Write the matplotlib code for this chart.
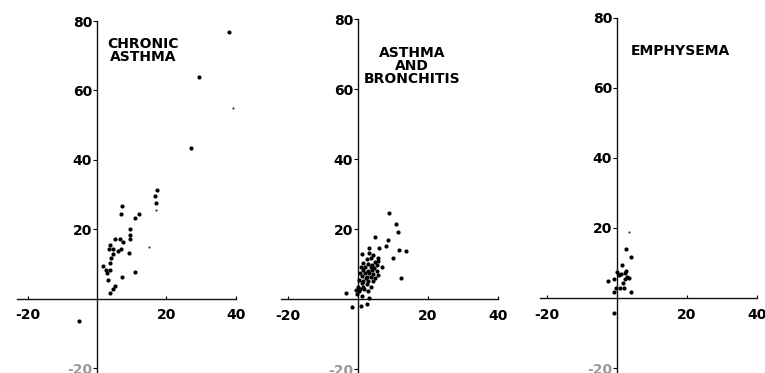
import matplotlib
matplotlib.use("Agg")
import matplotlib.pyplot as plt

plt.rcParams['axes.unicode_minus'] = False
plt.rcParams['font.family'] = ['DejaVu Sans']

# ---- data ----
titles = ["CHRONIC\nASTHMA", "ASTHMA\nAND\nBRONCHITIS", "EMPHYSEMA"]

ca_x = [38.1, 29.5, 27.2, 17.2, 16.7, 17.1, 7.2, 6.9, 12.0, 11.0, 9.4, 9.5, 9.5, 5.2, 6.7,
        3.7, 7.6, 3.5, 4.7, 6.0, 6.9, 4.6, 9.1, 3.9, 3.7, 1.7, 2.5, 3.7, 2.8, 10.9, 3.2,
        7.2, 5.2, 4.6, 3.8, -5.1]
ca_y = [76.9, 64.0, 43.5, 31.4, 29.6, 27.6, 26.8, 24.5, 24.3, 23.4, 20.0, 18.3, 17.1, 17.1, 17.2,
        15.4, 16.2, 14.3, 14.2, 13.8, 14.4, 12.9, 13.2, 11.6, 10.2, 9.4, 8.4, 8.4, 7.3, 7.8, 5.4,
        6.2, 3.6, 2.7, 1.6, -6.4]
ca_small_x = [17.0, 15.1, 39.3]
ca_small_y = [25.7, 14.8, 54.9]

ab_x = [8.9, 10.8, 11.4, 4.9, 8.7, 8.1, 3.1, 5.9, 11.8, 13.8, 10.0, 12.3, -3.5, -1.6, 0.9, 2.7,
        1.05, 3.2, 4.2, 2.5, 3.7, 5.8, 1.3, 4.9, 5.6, 2.9, 3.9, 5.3, 6.8, 0.8, 2.1, 3.6, 4.6,
        1.5, 2.8, 3.9, 5.5, 0.6, 2.0, 3.2, 4.4, 5.8, 1.05, 2.5, 2.3, 3.6, 4.9, 0.4, 1.5, 2.9,
        4.2, 1.05, 2.5, 3.6, 0.1, 1.5, 0.6, -0.6, 0.4, 1.7, 2.9, -0.2, 1.05, 3.2]
ab_y = [24.7, 21.4, 19.1, 17.7, 16.9, 15.2, 14.7, 14.6, 14.2, 13.7, 11.8, 6.0, 1.8, -2.2, -2.0, -1.3,
        12.9, 13.1, 12.7, 11.5, 11.7, 11.7, 10.3, 10.7, 10.9, 10.1, 9.8, 9.8, 9.1, 9.1, 9.1, 9.3, 8.9,
        8.4, 8.1, 8.4, 8.1, 7.6, 7.4, 7.6, 7.2, 6.9, 6.7, 6.5, 6.0, 6.3, 6.0, 5.5, 5.3, 5.3,
        5.3, 4.6, 4.4, 3.6, 3.6, 3.6, 2.9, 2.7, 2.5, 2.9, 2.5, 1.5, 0.9, 0.3]

em_x = [2.6, 4.0, 1.4, 2.7, 0.0, 1.1, 2.2, 0.7, 3.4, -0.8, -2.5, 2.2, 1.7, 2.9, -0.3, 0.9, 1.9,
        -1.0, 4.0, -1.0]
em_y = [14.1, 11.6, 9.4, 7.8, 7.3, 7.0, 7.2, 6.6, 5.6, 5.3, 4.9, 5.3, 4.4, 6.1, 2.9, 2.8, 2.9,
        1.8, 1.8, -4.4]
em_small_x = [3.3]
em_small_y = [18.8]

xticks = [-20, 20, 40]
yticks = [-20, 20, 40, 60, 80]
title_pos = [(13.3, 75.5), (15.4, 72.5), (18.1, 72.5)]

# ---- layout (pixel origins of each panel) ----
W, H, DPI = 765, 373, 100
origins = [(97, 298.7, 3.47), (358, 299.3, 3.5), (617, 298.0, 3.5)]
XL = (-24, 42)
YL = (-23, 82)

fig = plt.figure(figsize=(W / DPI, H / DPI), dpi=DPI)
fig.patch.set_facecolor('white')

series = [((ca_x, ca_y), (ca_small_x, ca_small_y)),
          ((ab_x, ab_y), ([], [])),
          ((em_x, em_y), (em_small_x, em_small_y))]

for i, ((x0, y0, s), ((bx, by), (sx, sy))) in enumerate(zip(origins, series)):
    left = (x0 + XL[0] * s) / W
    width = (XL[1] - XL[0]) * s / W
    bottom_px = y0 - YL[0] * s
    bottom = (H - bottom_px) / H
    height = (YL[1] - YL[0]) * s / H
    ax = fig.add_axes([left, bottom, width, height])
    ax.set_xlim(*XL)
    ax.set_ylim(*YL)
    ax.patch.set_alpha(0)
    for k in ('top', 'right'):
        ax.spines[k].set_visible(False)
    ax.spines['left'].set_position(('data', 0))
    ax.spines['bottom'].set_position(('data', 0))
    ax.spines['left'].set_bounds(-23, 80)
    ax.spines['bottom'].set_bounds(-23 if i == 0 else -22, 40)
    for k in ('left', 'bottom'):
        ax.spines[k].set_linewidth(1.0)
        ax.spines[k].set_color('#111111')
    ax.set_xticks(xticks)
    ax.set_yticks(yticks)
    ax.set_xticklabels([str(t) for t in xticks])
    ax.set_yticklabels([str(t) for t in yticks])
    ax.tick_params(axis='x', direction='in', length=2, width=0.8, pad=7, labelsize=10)
    ax.tick_params(axis='y', direction='out', length=3, width=0.8, pad=0.5, labelsize=10)
    for lab in ax.get_xticklabels() + ax.get_yticklabels():
        lab.set_fontweight('bold')
    ax.get_yticklabels()[0].set_color('#999999')

    ax.scatter(bx, by, s=9, color='black', linewidths=0, zorder=3)
    if len(sx):
        ax.scatter(sx, sy, s=2.5, color='#333333', linewidths=0, zorder=3)

    tx, ty = title_pos[i]
    ax.text(tx, ty, titles[i], ha='center', va='top', multialignment='center',
            fontsize=10, fontweight='bold', linespacing=0.95)

fig.savefig('out.png', dpi=DPI, facecolor='white')
